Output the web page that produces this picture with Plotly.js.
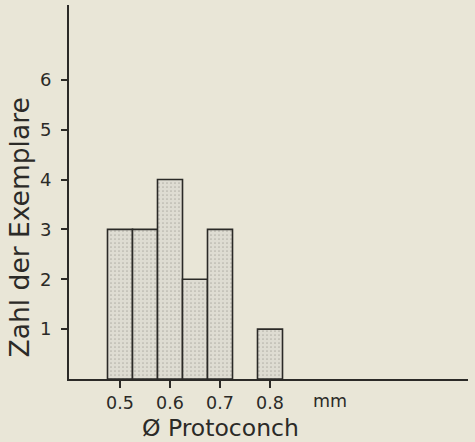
<!DOCTYPE html>
<html>
<head>
<meta charset="utf-8">
<script src="https://cdn.plot.ly/plotly-3.0.1.min.js"></script>
<style>
html,body{margin:0;padding:0;background:#e9e6d7;}
#chart{width:475px;height:442px;}
</style>
</head>
<body>
<div id="chart"></div>
<script>
// Protoconch diameter classes (mm) and counts
const diameters = [0.50, 0.55, 0.60, 0.65, 0.70, 0.80];
const counts = [3, 3, 4, 2, 3, 1];
const xTickVals = [0.5, 0.6, 0.7, 0.8];
const xTickText = ["0.5", "0.6", "0.7", "0.8"];
const yTickVals = [1, 2, 3, 4, 5, 6];
const yTickText = ["1", "2", "3", "4", "5", "6"];

const ink = '#2b2a27';
const font = 'DejaVu Sans, sans-serif';

const trace = {
  type: 'bar',
  x: diameters,
  y: counts,
  width: 0.05,
  marker: {
    color: '#dcdad0',
    line: {color: ink, width: 1.6},
    pattern: {shape: '.', fgcolor: '#b5b3aa', bgcolor: '#dedcd2', size: 4, solidity: 0.15}
  },
  hoverinfo: 'skip'
};

const layout = {
  width: 475,
  height: 442,
  margin: {l: 69, r: 7, t: 5, b: 63},
  paper_bgcolor: '#e9e6d7',
  plot_bgcolor: '#e9e6d7',
  showlegend: false,
  bargap: 0,
  xaxis: {
    range: [0.398, 1.196],
    tickvals: xTickVals,
    ticktext: xTickText,
    ticks: 'outside',
    ticklen: 7,
    tickwidth: 2,
    tickcolor: ink,
    showline: true,
    linecolor: ink,
    linewidth: 2,
    showgrid: false,
    zeroline: false,
    tickfont: {family: font, size: 17.5, color: ink},
    fixedrange: true
  },
  yaxis: {
    range: [0, 7.5],
    tickvals: yTickVals,
    ticktext: yTickText,
    ticks: 'outside',
    ticklen: 6,
    tickwidth: 2,
    tickcolor: ink,
    ticklabelstandoff: 6,
    showline: true,
    linecolor: ink,
    linewidth: 2,
    showgrid: false,
    zeroline: false,
    tickfont: {family: font, size: 18, color: ink},
    fixedrange: true
  },
  annotations: [
    {text: 'mm', xref: 'x', yref: 'paper', x: 0.92, y: 0, yanchor: 'middle', yshift: -22,
     showarrow: false, font: {family: font, size: 17.5, color: ink}},
    {text: 'Ø Protoconch', xref: 'x', yref: 'paper', x: 0.7, y: 0, yanchor: 'middle', yshift: -49,
     showarrow: false, font: {family: font, size: 23.5, color: ink}},
    {text: 'Zahl der Exemplare', xref: 'paper', yref: 'y', x: 0, xshift: -50, y: 3.04,
     xanchor: 'center', yanchor: 'middle', textangle: -90,
     showarrow: false, font: {family: font, size: 26.5, color: ink}}
  ]
};

Plotly.newPlot('chart', [trace], layout, {displayModeBar: false, staticPlot: true});
</script>
</body>
</html>
